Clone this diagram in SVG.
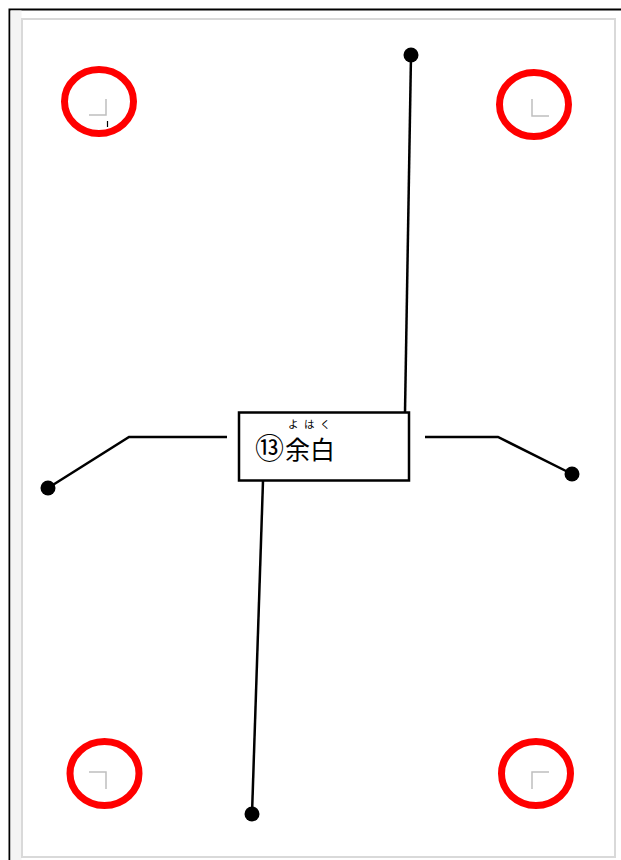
<svg xmlns="http://www.w3.org/2000/svg" width="621" height="860" viewBox="0 0 621 860">
  <style>
    .mark { fill: none; stroke: #bfbfbf; stroke-width: 1.5; }
    .ring { fill: none; stroke: #ff0000; stroke-width: 7; }
    .conn { fill: none; stroke: #000; stroke-width: 2.5; }
    .dot { fill: #000; }
    .lbl { font-family: "Noto Sans CJK JP", "Noto Sans", sans-serif; fill: #000; }
  </style>
  <rect x="0" y="0" width="621" height="860" fill="#fff"/>
  <g id="frame">
    <path d="M9.5 860 V9.5 H621" fill="none" stroke="#000" stroke-width="2"/>
    <rect x="10.5" y="10.5" width="11" height="850" fill="#f4f4f4"/>
    <rect x="22" y="19" width="593" height="838" fill="#fff" stroke="#d9d9d9" stroke-width="2"/>
  </g>
  <g id="corner-tl">
    <path class="mark" d="M106 99 V115 H89"/>
    <path d="M107.5 121 V127" stroke="#000" stroke-width="1.2"/>
    <ellipse class="ring" cx="99" cy="101.5" rx="34.5" ry="32"/>
  </g>
  <g id="corner-tr">
    <path class="mark" d="M532 99 V116 H549"/>
    <ellipse class="ring" cx="534" cy="104.5" rx="34.5" ry="32"/>
  </g>
  <g id="corner-bl">
    <path class="mark" d="M89 772 H106 V789"/>
    <ellipse class="ring" cx="104.5" cy="773.5" rx="34.5" ry="32"/>
  </g>
  <g id="corner-br">
    <path class="mark" d="M549 772 H532 V789"/>
    <ellipse class="ring" cx="536" cy="773.5" rx="34.5" ry="32"/>
  </g>
  <g id="connectors">
    <path class="conn" d="M411 55 L405 412"/>
    <path class="conn" d="M263 481 L252 814"/>
    <path class="conn" d="M48 488 L129 437 H227"/>
    <path class="conn" d="M425 437 H498 L572 474"/>
    <circle class="dot" cx="411" cy="55" r="7.5"/>
    <circle class="dot" cx="252" cy="814" r="7.5"/>
    <circle class="dot" cx="48" cy="488" r="7.5"/>
    <circle class="dot" cx="572" cy="474" r="7.5"/>
  </g>
  <g id="label-box">
    <rect x="239" y="412.5" width="170" height="68" fill="#fff" stroke="#000" stroke-width="2.5"/>
    <text class="lbl" y="459"><tspan x="255" font-size="29">⑬</tspan><tspan x="285" font-size="25">余白</tspan></text>
    <text class="lbl" x="288" y="428" font-size="10.5" letter-spacing="5.5">よはく</text>
  </g>
</svg>
